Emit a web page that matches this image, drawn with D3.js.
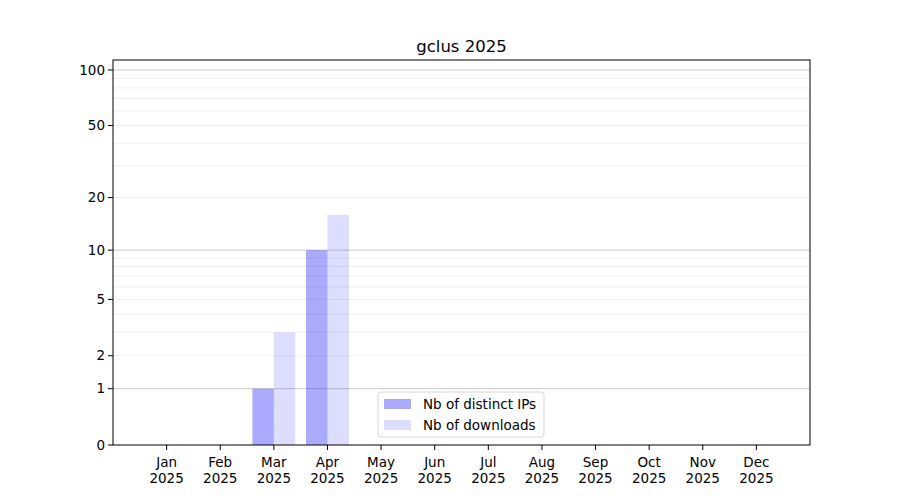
<!DOCTYPE html>
<html><head><meta charset="utf-8">
<script src="https://cdn.jsdelivr.net/npm/d3@7"></script>
<style>body{margin:0;background:#fff}svg{display:block}text{font-family:"DejaVu Sans",sans-serif;fill:#000}</style>
</head><body>
<svg id="c" width="900" height="500"></svg>
<script>
const months = ["Jan","Feb","Mar","Apr","May","Jun","Jul","Aug","Sep","Oct","Nov","Dec"];
const year = "2025";
const distinctIPs = [0,0,1,10,0,0,0,0,0,0,0,0];
const downloads   = [0,0,3,16,0,0,0,0,0,0,0,0];
const yTicks = [0,1,2,5,10,20,50,100];
const majorGrid = [1,10,100];
const minorGrid = [2,3,4,5,6,7,8,9,20,30,40,50,60,70,80,90];
const title = "gclus 2025";
const seriesNames = ["Nb of distinct IPs","Nb of downloads"];

const svg = d3.select("#c");
const L=113,R=810,T=60,B=445;
const x = d3.scaleLinear().domain([-1,12]).range([L,R]);
const f = v=>Math.log10(1+v);
const yl = d3.scaleLinear().domain([0,f(113.2)]).range([B,T]);
const y = v=>yl(f(v));
const step = x(1)-x(0);
const bw = step*0.4;

// grid
svg.append("g").selectAll("line").data(minorGrid).join("line")
 .attr("x1",L).attr("x2",R).attr("y1",d=>y(d)).attr("y2",d=>y(d))
 .attr("stroke","#ebebeb").attr("stroke-width",0.8);
svg.append("g").selectAll("line").data(majorGrid).join("line")
 .attr("x1",L).attr("x2",R).attr("y1",d=>y(d)).attr("y2",d=>y(d))
 .attr("stroke","#cccccc").attr("stroke-width",1);

// bars
svg.append("g").selectAll("rect").data(distinctIPs).join("rect")
 .attr("x",(d,i)=>x(i)-bw).attr("width",bw)
 .attr("y",d=>y(d)).attr("height",d=>B-y(d))
 .attr("fill","blue").attr("fill-opacity",0.333);
svg.append("g").selectAll("rect").data(downloads).join("rect")
 .attr("x",(d,i)=>x(i)).attr("width",bw)
 .attr("y",d=>y(d)).attr("height",d=>B-y(d))
 .attr("fill","blue").attr("fill-opacity",0.135);

// frame
svg.append("rect").attr("x",L).attr("y",T).attr("width",R-L).attr("height",B-T)
 .attr("fill","none").attr("stroke","#000").attr("stroke-width",1);

// y axis
const ya = svg.append("g");
yTicks.forEach(t=>{
  const yy=y(t);
  ya.append("line").attr("x1",L-5).attr("x2",L).attr("y1",yy).attr("y2",yy).attr("stroke","#000");
  ya.append("text").attr("x",L-8).attr("y",yy).attr("dy","0.35em").attr("text-anchor","end")
    .style("font-size","13.5px").text(t);
});
// x axis
const xa = svg.append("g");
months.forEach((m,i)=>{
  const xx=x(i);
  xa.append("line").attr("x1",xx).attr("x2",xx).attr("y1",B).attr("y2",B+5).attr("stroke","#000");
  xa.append("text").attr("x",xx).attr("y",B+22).attr("text-anchor","middle").style("font-size","13.5px").text(m);
  xa.append("text").attr("x",xx).attr("y",B+38).attr("text-anchor","middle").style("font-size","13.5px").text(year);
});

svg.append("text").attr("x",(L+R)/2).attr("y",T-8).attr("text-anchor","middle")
 .style("font-size","16.5px").text(title);

// legend
const lg = svg.append("g").attr("transform","translate(378,392)");
lg.append("rect").attr("width",166).attr("height",45).attr("rx",3)
 .attr("fill","#fff").attr("fill-opacity",0.8).attr("stroke","#d6d6d6");
[0.333,0.135].forEach((op,i)=>{
  lg.append("rect").attr("x",6).attr("y",7+i*21).attr("width",27).attr("height",10)
    .attr("fill","blue").attr("fill-opacity",op);
  lg.append("text").attr("x",45).attr("y",12+i*21).attr("dy","0.35em").style("font-size","13.5px").text(seriesNames[i]);
});
</script>
</body></html>
